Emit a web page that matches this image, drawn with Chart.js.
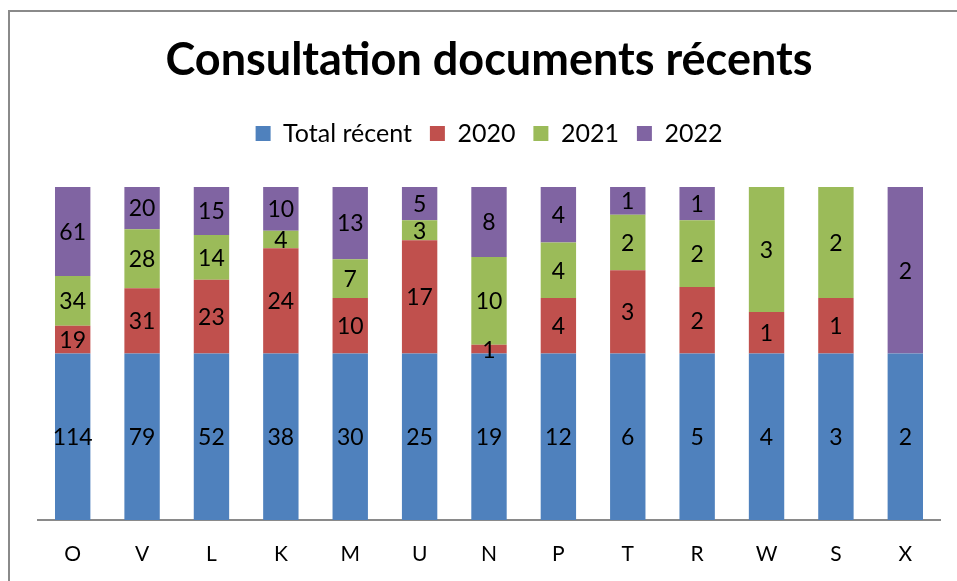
<!DOCTYPE html>
<html>
<head>
<meta charset="utf-8">
<script src="https://cdn.jsdelivr.net/npm/chart.js@4"></script>
<style>
  html, body { margin: 0; padding: 0; background: #fff; overflow: hidden; }
  #wrap { position: relative; width: 957px; height: 581px; overflow: hidden; }
  #frame { position: absolute; left: 8px; top: 10px; width: 1000px; height: 600px; border: 2px solid #8a8a8a; box-sizing: border-box; }
  canvas { position: absolute; left: 0; top: 0; }
</style>
</head>
<body>
<div id="wrap">
  <div id="frame"></div>
  <canvas id="chart" width="957" height="581"></canvas>
</div>
<script>
(function() {
    'use strict';

    // ===== DATA =====
    const categories = ['O', 'V', 'L', 'K', 'M', 'U', 'N', 'P', 'T', 'R', 'W', 'S', 'X'];
    const totalRecent = [114, 79, 52, 38, 30, 25, 19, 12, 6, 5, 4, 3, 2];
    const y2020 = [19, 31, 23, 24, 10, 17, 1, 4, 3, 2, 1, 1, 0];
    const y2021 = [34, 28, 14, 4, 7, 3, 10, 4, 2, 2, 3, 2, 0];
    const y2022 = [61, 20, 15, 10, 13, 5, 8, 4, 1, 1, 0, 0, 2];

    const seriesNames = ['Total récent', '2020', '2021', '2022'];
    const seriesValues = [totalRecent, y2020, y2021, y2022];
    const colors = ['#4F81BD', '#C0504D', '#9BBB59', '#8064A2'];

    const FONT = 'Lato, "Open Sans", sans-serif';

    // 100% stacked: share of each column's sum
    const columnSums = categories.map((c, i) => seriesValues.reduce((s, arr) => s + arr[i], 0));

    const datasets = seriesNames.map((name, k) => ({
        label: name,
        data: seriesValues[k].map((v, i) => v / columnSums[i] * 100),
        raw: seriesValues[k],
        backgroundColor: colors[k],
        borderWidth: 0,
        barPercentage: 0.51,
        categoryPercentage: 1
    }));

    // ===== VALUE LABELS =====
    const valueLabels = {
        id: 'valueLabels',
        afterDatasetsDraw(chart) {
            const ctx = chart.ctx;
            ctx.save();
            ctx.font = '23px ' + FONT;
            ctx.fillStyle = '#000';
            ctx.textAlign = 'center';
            ctx.textBaseline = 'middle';
            chart.data.datasets.forEach((ds, k) => {
                const meta = chart.getDatasetMeta(k);
                meta.data.forEach((bar, i) => {
                    const v = ds.raw[i];
                    if (!v) return;
                    ctx.fillText(String(v), bar.x, (bar.y + bar.base) / 2 + 1);
                });
            });
            ctx.restore();
        }
    };

    // extra room under the legend
    const legendSpace = {
        id: 'legendSpace',
        beforeInit(chart) {
            const fit = chart.legend.fit;
            chart.legend.fit = function() {
                fit.call(this);
                this.height += 31;
            };
        }
    };

    new Chart(document.getElementById('chart'), {
        type: 'bar',
        data: { labels: categories, datasets: datasets },
        plugins: [valueLabels, legendSpace],
        options: {
            responsive: false,
            animation: false,
            layout: { padding: { left: 38, right: 17, top: 33, bottom: 0 } },
            plugins: {
                title: {
                    display: true,
                    text: 'Consultation documents récents',
                    color: '#000',
                    font: { family: FONT, size: 45, weight: 'bold' },
                    padding: { top: 0, bottom: 16 }
                },
                legend: {
                    display: true,
                    labels: {
                        color: '#000',
                        font: { family: FONT, size: 25 },
                        boxWidth: 15,
                        boxHeight: 15,
                        padding: 18
                    }
                },
                tooltip: { enabled: false }
            },
            scales: {
                x: {
                    stacked: true,
                    grid: { display: false, drawTicks: false },
                    border: { display: true, color: '#8a8a8a', width: 2 },
                    ticks: {
                        color: '#000',
                        font: { family: FONT, size: 21 },
                        padding: 22
                    },
                    afterFit(scale) {
                        scale.height = 61;
                    }
                },
                y: {
                    stacked: true,
                    display: false,
                    min: 0,
                    max: 100
                }
            }
        }
    });
})();
</script>
</body>
</html>
